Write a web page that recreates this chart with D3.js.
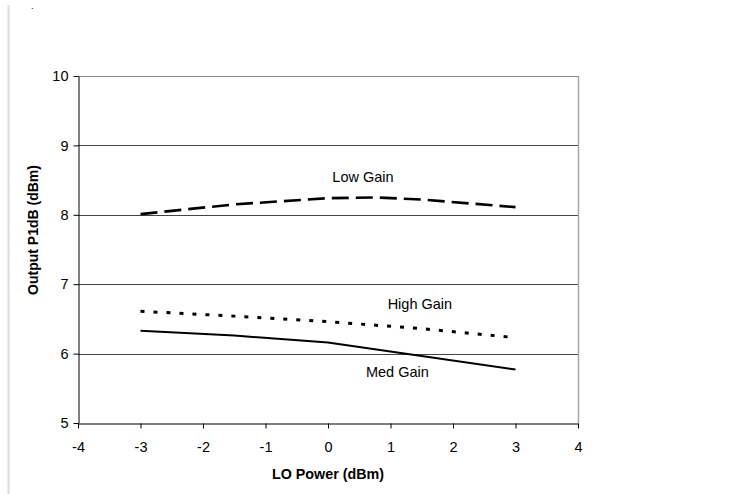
<!DOCTYPE html>
<html>
<head>
<meta charset="utf-8">
<script src="https://cdn.jsdelivr.net/npm/d3@7"></script>
<style>
body { margin: 0; background: #fff; }
text { font-family: "Liberation Sans", Arial, sans-serif; }
</style>
</head>
<body>
<div id="chart"></div>
<script>
var xTicks = [-4, -3, -2, -1, 0, 1, 2, 3, 4];
var yTicks = [5, 6, 7, 8, 9, 10];

// series
var lowX = [-3, -1.5, 0, 0.75, 1.5, 3];
var lowY = [8.01, 8.15, 8.24, 8.25, 8.22, 8.11];
var highX = [-3, -1.5, 0, 1.5, 3];
var highY = [6.61, 6.54, 6.46, 6.36, 6.23];
var medX = [-3, -1.5, 0, 3];
var medY = [6.33, 6.26, 6.16, 5.77];

var labels = [
  {text: "Low Gain", x: 0.56, y: 8.47},
  {text: "High Gain", x: 1.47, y: 6.64},
  {text: "Med Gain", x: 1.11, y: 5.66}
];

var W = 729, H = 494;
var margin = {top: 76, right: 151, bottom: 71, left: 78};

var svg = d3.select("#chart").append("svg")
  .attr("width", W).attr("height", H);

// light frame line on the left
svg.append("line")
  .attr("x1", 8.5).attr("x2", 8.5).attr("y1", 5).attr("y2", H)
  .attr("stroke", "#dcdcdc").attr("stroke-width", 2);
svg.append("text").attr("x", 31).attr("y", 9).attr("font-size", 9).text(".");

var xScale = d3.scaleLinear().domain([-4, 4]).range([margin.left, W - margin.right]);
var yScale = d3.scaleLinear().domain([5, 10]).range([H - margin.bottom, margin.top]);

var g = svg.append("g");

// gridlines
g.selectAll("line.grid")
  .data(yTicks.filter(function(d){ return d > 5; }))
  .enter().append("line")
  .attr("class", "grid")
  .attr("x1", xScale(-4)).attr("x2", xScale(4))
  .attr("y1", function(d){ return Math.round(yScale(d)) + 0.5; })
  .attr("y2", function(d){ return Math.round(yScale(d)) + 0.5; })
  .attr("stroke", function(d){ return d == 10 ? "#888" : "#444"; })
  .attr("stroke-width", 1);

// right border
g.append("line")
  .attr("x1", Math.round(xScale(4)) + 0.5).attr("x2", Math.round(xScale(4)) + 0.5)
  .attr("y1", yScale(10)).attr("y2", yScale(5))
  .attr("stroke", "#a8a8a8").attr("stroke-width", 1.5);

var xAxis = d3.axisBottom(xScale).tickValues(xTicks).tickFormat(d3.format("d"))
  .tickSize(5).tickSizeOuter(0).tickPadding(13);
var yAxis = d3.axisLeft(yScale).tickValues(yTicks).tickFormat(d3.format("d"))
  .tickSize(5).tickSizeOuter(0).tickPadding(5);

var xAxisGroup = svg.append("g")
  .attr("transform", "translate(0," + (Math.round(yScale(5)) + 0.5) + ")")
  .call(xAxis);
var yAxisGroup = svg.append("g")
  .attr("transform", "translate(" + (Math.round(xScale(-4)) + 0.5) + ",0)")
  .call(yAxis);

[xAxisGroup, yAxisGroup].forEach(function(a){
  a.attr("font-size", 14.5);
  a.selectAll("path, line").attr("stroke", "#000");
  a.selectAll("text").attr("fill", "#000");
});
xAxisGroup.selectAll("text").text(function(d){ return d < 0 ? "-" + Math.abs(d) : d; });

var line = d3.line()
  .x(function(d){ return xScale(d[0]); })
  .y(function(d){ return yScale(d[1]); });

function pairs(xs, ys) { return xs.map(function(x, i){ return [x, ys[i]]; }); }

g.append("path").datum(pairs(lowX, lowY))
  .attr("d", line).attr("fill", "none")
  .attr("stroke", "#000").attr("stroke-width", 2.6)
  .attr("stroke-dasharray", "17,7");

g.append("path").datum(pairs(highX, highY))
  .attr("d", line).attr("fill", "none")
  .attr("stroke", "#000").attr("stroke-width", 3)
  .attr("stroke-dasharray", "4,9");

g.append("path").datum(pairs(medX, medY))
  .attr("d", line).attr("fill", "none")
  .attr("stroke", "#000").attr("stroke-width", 2);

g.selectAll("text.lbl")
  .data(labels)
  .enter().append("text")
  .attr("class", "lbl")
  .attr("x", function(d){ return xScale(d.x); })
  .attr("y", function(d){ return yScale(d.y); })
  .attr("text-anchor", "middle")
  .attr("font-size", 14.5)
  .text(function(d){ return d.text; });

svg.append("text")
  .attr("x", xScale(0)).attr("y", 479)
  .attr("text-anchor", "middle")
  .attr("font-size", 14.3).attr("font-weight", "bold")
  .text("LO Power (dBm)");

svg.append("text")
  .attr("transform", "translate(38,230) rotate(-90)")
  .attr("text-anchor", "middle")
  .attr("font-size", 14).attr("font-weight", "bold")
  .text("Output P1dB (dBm)");
</script>
</body>
</html>
